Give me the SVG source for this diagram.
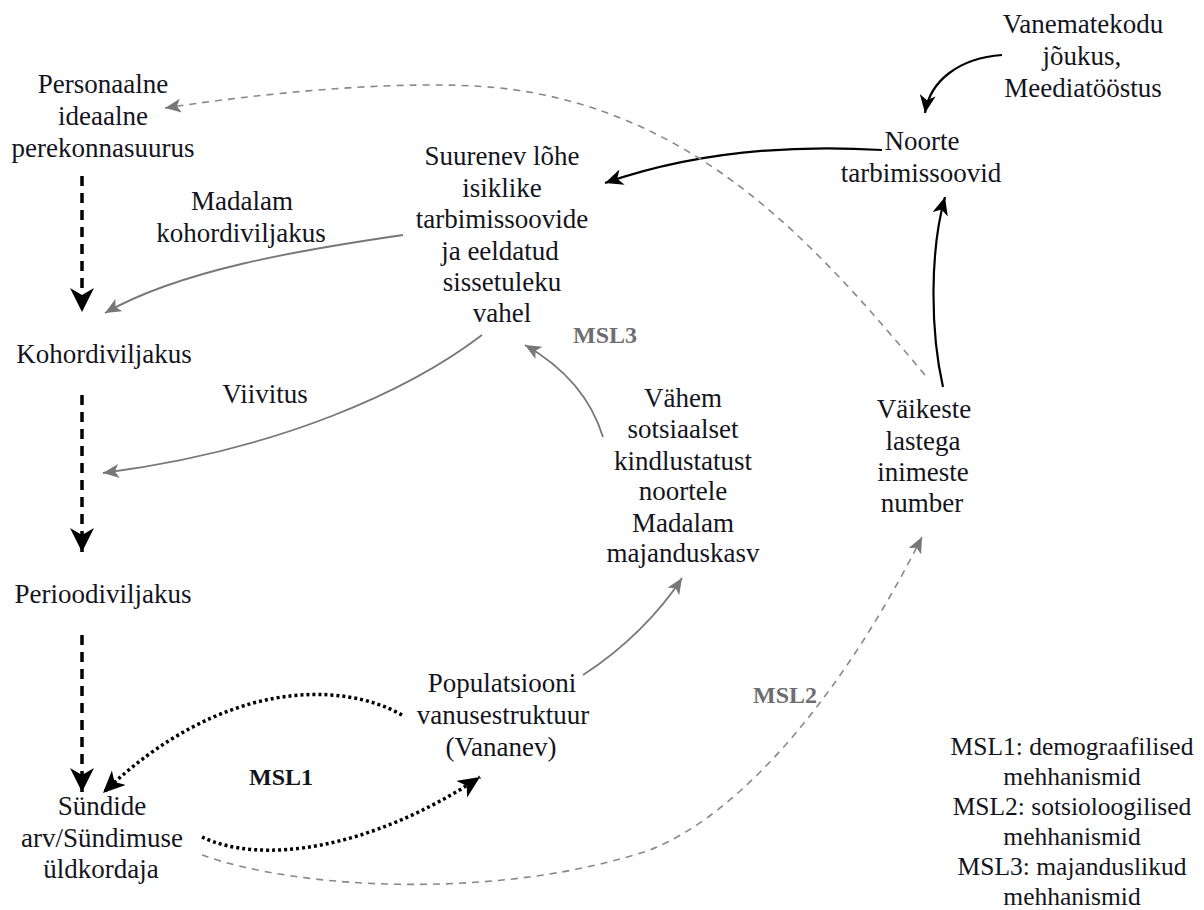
<svg xmlns="http://www.w3.org/2000/svg" width="1204" height="910" viewBox="0 0 1204 910" font-family="'Liberation Serif', 'DejaVu Serif', serif">
<defs>
<style>
text{font-family:'Liberation Serif','DejaVu Serif',serif;font-size:27px;fill:#141420;text-anchor:middle}
.msl{font-weight:bold;font-size:24px}
.grey{fill:#6e6e72}
.leg{font-size:25.5px}
.thick{fill:none;stroke:#000;stroke-width:3.5;stroke-dasharray:10 7}
.dot{fill:none;stroke:#000;stroke-width:3.5;stroke-dasharray:3 3}
.gs{fill:none;stroke:#777;stroke-width:1.8}
.gd{fill:none;stroke:#888;stroke-width:1.6;stroke-dasharray:7 6}
.bs{fill:none;stroke:#000;stroke-width:2.2}
</style>
<marker id="bigB" markerUnits="userSpaceOnUse" markerWidth="26" markerHeight="26" refX="24" refY="12" orient="auto">
<path d="M0,0 L24,12 L0,24 L7,12 z" fill="#000"/>
</marker>
<marker id="midB" markerUnits="userSpaceOnUse" markerWidth="24" markerHeight="22" refX="22" refY="10" orient="auto">
<path d="M0,0 L22,10 L0,20 L6,10 z" fill="#000"/>
</marker>
<marker id="smB" markerUnits="userSpaceOnUse" markerWidth="20" markerHeight="18" refX="18" refY="8" orient="auto">
<path d="M0,0 L18,8 L0,16 L5,8 z" fill="#000"/>
</marker>
<marker id="smG" markerUnits="userSpaceOnUse" markerWidth="18" markerHeight="16" refX="16" refY="7" orient="auto">
<path d="M0,0 L16,7 L0,14 L4,7 z" fill="#777"/>
</marker>
</defs>
<rect width="1204" height="910" fill="#fff"/>

<g id="connectors">
<path class="thick" d="M82,176 L82,312" marker-end="url(#bigB)"/>
<path class="thick" d="M82,395 L82,552" marker-end="url(#bigB)"/>
<path class="thick" d="M82,635 L82,792" marker-end="url(#bigB)"/>
<path class="gs" d="M403,235 C300,250 180,270 105,313" marker-end="url(#smG)"/>
<path class="gs" d="M482,335 C410,390 280,450 103,473" marker-end="url(#smG)"/>
<path class="gs" d="M603,437 C590,395 560,365 525,345" marker-end="url(#smG)"/>
<path class="gs" d="M583,675 C625,648 660,612 682,578" marker-end="url(#smG)"/>
<path class="bs" d="M882,150 C800,145 700,150 605,183" marker-end="url(#smB)"/>
<path class="bs" d="M943,387 C930,330 930,250 945,197" marker-end="url(#smB)"/>
<path class="bs" d="M1002,55 C960,58 930,80 925,113" marker-end="url(#smB)"/>
<path class="gd" d="M925,375 C820,250 700,110 500,88 C400,78 250,95 165,108" marker-end="url(#smG)"/>
<path class="gd" d="M202,855 C300,890 500,900 650,850 C750,810 850,680 922,537" marker-end="url(#smG)"/>
<path class="dot" d="M402,715 C340,680 220,680 103,793" marker-end="url(#midB)"/>
<path class="dot" d="M202,837 C260,865 370,850 480,777" marker-end="url(#midB)"/>
</g>

<g id="personaalne">
<text x="103" y="93">Personaalne</text>
<text x="103" y="125">ideaalne</text>
<text x="103" y="157">perekonnasuurus</text>
</g>
<g id="kohordiviljakus"><text x="104" y="363">Kohordiviljakus</text></g>
<g id="perioodiviljakus"><text x="103" y="603">Perioodiviljakus</text></g>
<g id="sundide">
<text x="102" y="815">Sündide</text>
<text x="102" y="847">arv/Sündimuse</text>
<text x="101" y="878">üldkordaja</text>
</g>
<g id="populatsioon">
<text x="502" y="692">Populatsiooni</text>
<text x="503" y="724">vanusestruktuur</text>
<text x="501" y="756">(Vananev)</text>
</g>
<g id="suurenev">
<text x="502" y="165">Suurenev lõhe</text>
<text x="502" y="197">isiklike</text>
<text x="502" y="228">tarbimissoovide</text>
<text x="500" y="260">ja eeldatud</text>
<text x="502" y="291">sissetuleku</text>
<text x="502" y="322">vahel</text>
</g>
<g id="vahem">
<text x="683" y="407">Vähem</text>
<text x="683" y="438">sotsiaalset</text>
<text x="683" y="470">kindlustatust</text>
<text x="683" y="500">noortele</text>
<text x="683" y="532">Madalam</text>
<text x="683" y="562">majanduskasv</text>
</g>
<g id="noorte">
<text x="922" y="150">Noorte</text>
<text x="921" y="182">tarbimissoovid</text>
</g>
<g id="vanematekodu">
<text x="1083" y="33">Vanematekodu</text>
<text x="1082" y="65">jõukus,</text>
<text x="1083" y="97">Meediatööstus</text>
</g>
<g id="vaikeste">
<text x="924" y="418">Väikeste</text>
<text x="923" y="450">lastega</text>
<text x="923" y="481">inimeste</text>
<text x="922" y="512">number</text>
</g>

<g id="labels">
<text x="242" y="210">Madalam</text>
<text x="241" y="242">kohordiviljakus</text>
<text x="265" y="403">Viivitus</text>
<text class="msl" x="281" y="785">MSL1</text>
<text class="msl grey" x="785" y="703">MSL2</text>
<text class="msl grey" x="605" y="343">MSL3</text>
</g>

<g id="legend">
<text class="leg" x="1072" y="755">MSL1: demograafilised</text>
<text class="leg" x="1072" y="785">mehhanismid</text>
<text class="leg" x="1072" y="815">MSL2: sotsioloogilised</text>
<text class="leg" x="1072" y="845">mehhanismid</text>
<text class="leg" x="1072" y="875">MSL3: majanduslikud</text>
<text class="leg" x="1072" y="905">mehhanismid</text>
</g>
</svg>
